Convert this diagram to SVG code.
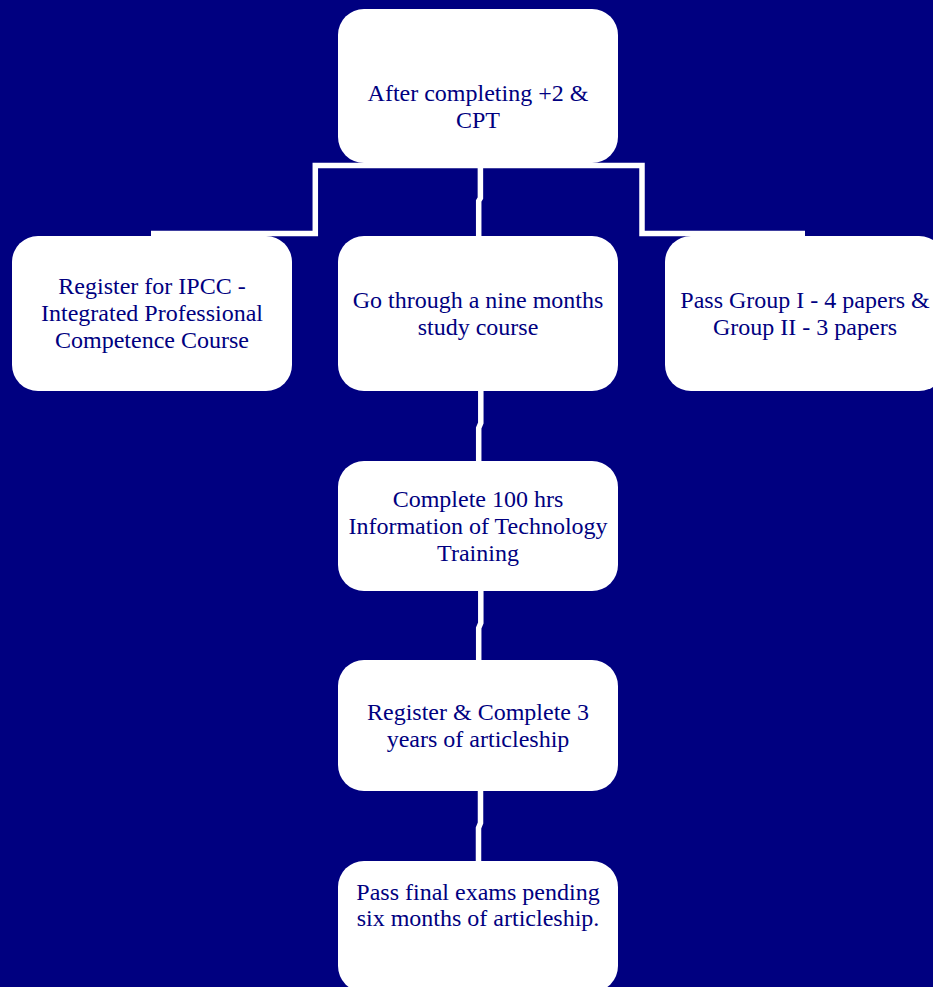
<svg xmlns="http://www.w3.org/2000/svg" width="933" height="987" viewBox="0 0 933 987">
<style>
.box{fill:#ffffff;}
.lbl{font-family:"Liberation Serif","Times New Roman",serif;font-size:24px;fill:#000080;text-anchor:middle;}
.conn{fill:none;stroke:#ffffff;stroke-width:5.5;stroke-linejoin:miter;stroke-linecap:butt;}
</style>
<rect x="0" y="0" width="933" height="987" fill="#000080"/>
<g id="connectors">
<path class="conn" d="M480 165.5 H315.3 V233.5 H151"/>
<path class="conn" d="M480 165.5 H642 V233.5 H805"/>
<path class="conn" d="M480.4 168 V198 L478.7 201 V236"/>
<path class="conn" d="M480.8 391 V423 L478.7 428 V461"/>
<path class="conn" d="M480.8 591 V623 L478.7 628 V660"/>
<path class="conn" d="M480.5 791 V823 L478.5 828 V861"/>
</g>
<g id="n1">
<rect class="box" x="338" y="9" width="280" height="154" rx="26"/>
<text class="lbl" x="478" y="101">After completing +2 &amp;</text>
<text class="lbl" x="478" y="128">CPT</text>
</g>
<g id="n2">
<rect class="box" x="12" y="236" width="280" height="155" rx="26"/>
<text class="lbl" x="152" y="294">Register for IPCC -</text>
<text class="lbl" x="152" y="321">Integrated Professional</text>
<text class="lbl" x="152" y="348">Competence Course</text>
</g>
<g id="n3">
<rect class="box" x="338" y="236" width="280" height="155" rx="26"/>
<text class="lbl" x="478" y="308">Go through a nine months</text>
<text class="lbl" x="478" y="335">study course</text>
</g>
<g id="n4">
<rect class="box" x="665" y="236" width="280" height="155" rx="26"/>
<text class="lbl" x="805" y="308">Pass Group I - 4 papers &amp;</text>
<text class="lbl" x="805" y="335">Group II - 3 papers</text>
</g>
<g id="n5">
<rect class="box" x="338" y="461" width="280" height="130" rx="26"/>
<text class="lbl" x="478" y="507">Complete 100 hrs</text>
<text class="lbl" x="478" y="534">Information of Technology</text>
<text class="lbl" x="478" y="561">Training</text>
</g>
<g id="n6">
<rect class="box" x="338" y="660" width="280" height="131" rx="26"/>
<text class="lbl" x="478" y="720">Register &amp; Complete 3</text>
<text class="lbl" x="478" y="747">years of articleship</text>
</g>
<g id="n7">
<rect class="box" x="338" y="861" width="280" height="131" rx="26"/>
<text class="lbl" x="478" y="900">Pass final exams pending</text>
<text class="lbl" x="478" y="926">six months of articleship.</text>
</g>
</svg>
